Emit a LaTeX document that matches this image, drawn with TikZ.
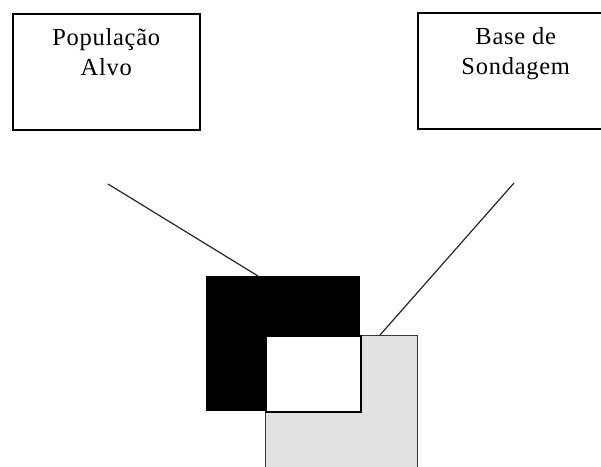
\documentclass[tikz,border=0pt]{standalone}
\usepackage{fontspec}
\setmainfont{Liberation Serif}[LetterSpace=3]
\usepackage{tikz}
\usetikzlibrary{positioning}
\definecolor{cinza}{HTML}{E2E2E2}
\definecolor{borda}{HTML}{3A3A3A}

\begin{document}
\begin{tikzpicture}[x=1pt,y=-1pt,
  caixa/.style={draw=black,line width=1.5pt,fill=white,inner sep=0pt,align=center,
    minimum width=187pt,minimum height=116pt,font=\fontsize{24.5}{30}\selectfont},
  quadrado/.style={inner sep=0pt,minimum width=154pt,minimum height=135pt},
  ligacao/.style={line width=1.2pt,draw=black!85}]
\useasboundingbox (0,0) rectangle (601,466);
\clip (0,0) rectangle (601,466);
% caixas de texto
\node[caixa,anchor=north west] (alvo) at (12,13) {População\\Alvo\\\strut};
\node[caixa,anchor=north west,minimum width=196pt] (base) at (417,12) {Base de\\Sondagem\\\strut};
% quadrados
\node[quadrado,fill=black,anchor=north west] (popq) at (206,276) {};
\node[quadrado,fill=cinza,draw=borda,line width=1pt,minimum width=152pt,anchor=north west] (baseq) at (265,335) {};
\node[fill=white,draw=black,line width=1.5pt,inner sep=0pt,minimum width=95pt,minimum height=76pt,anchor=north west] (inter) at (265,335) {};
% ligacoes
\coordinate (pa) at (108,184);
\coordinate (pb) at (514,183);
\draw[ligacao] (pa) -- ([xshift=52pt]popq.north west);
\draw[ligacao] (pb) -- ([xshift=115pt]baseq.north west);
\end{tikzpicture}
\end{document}
